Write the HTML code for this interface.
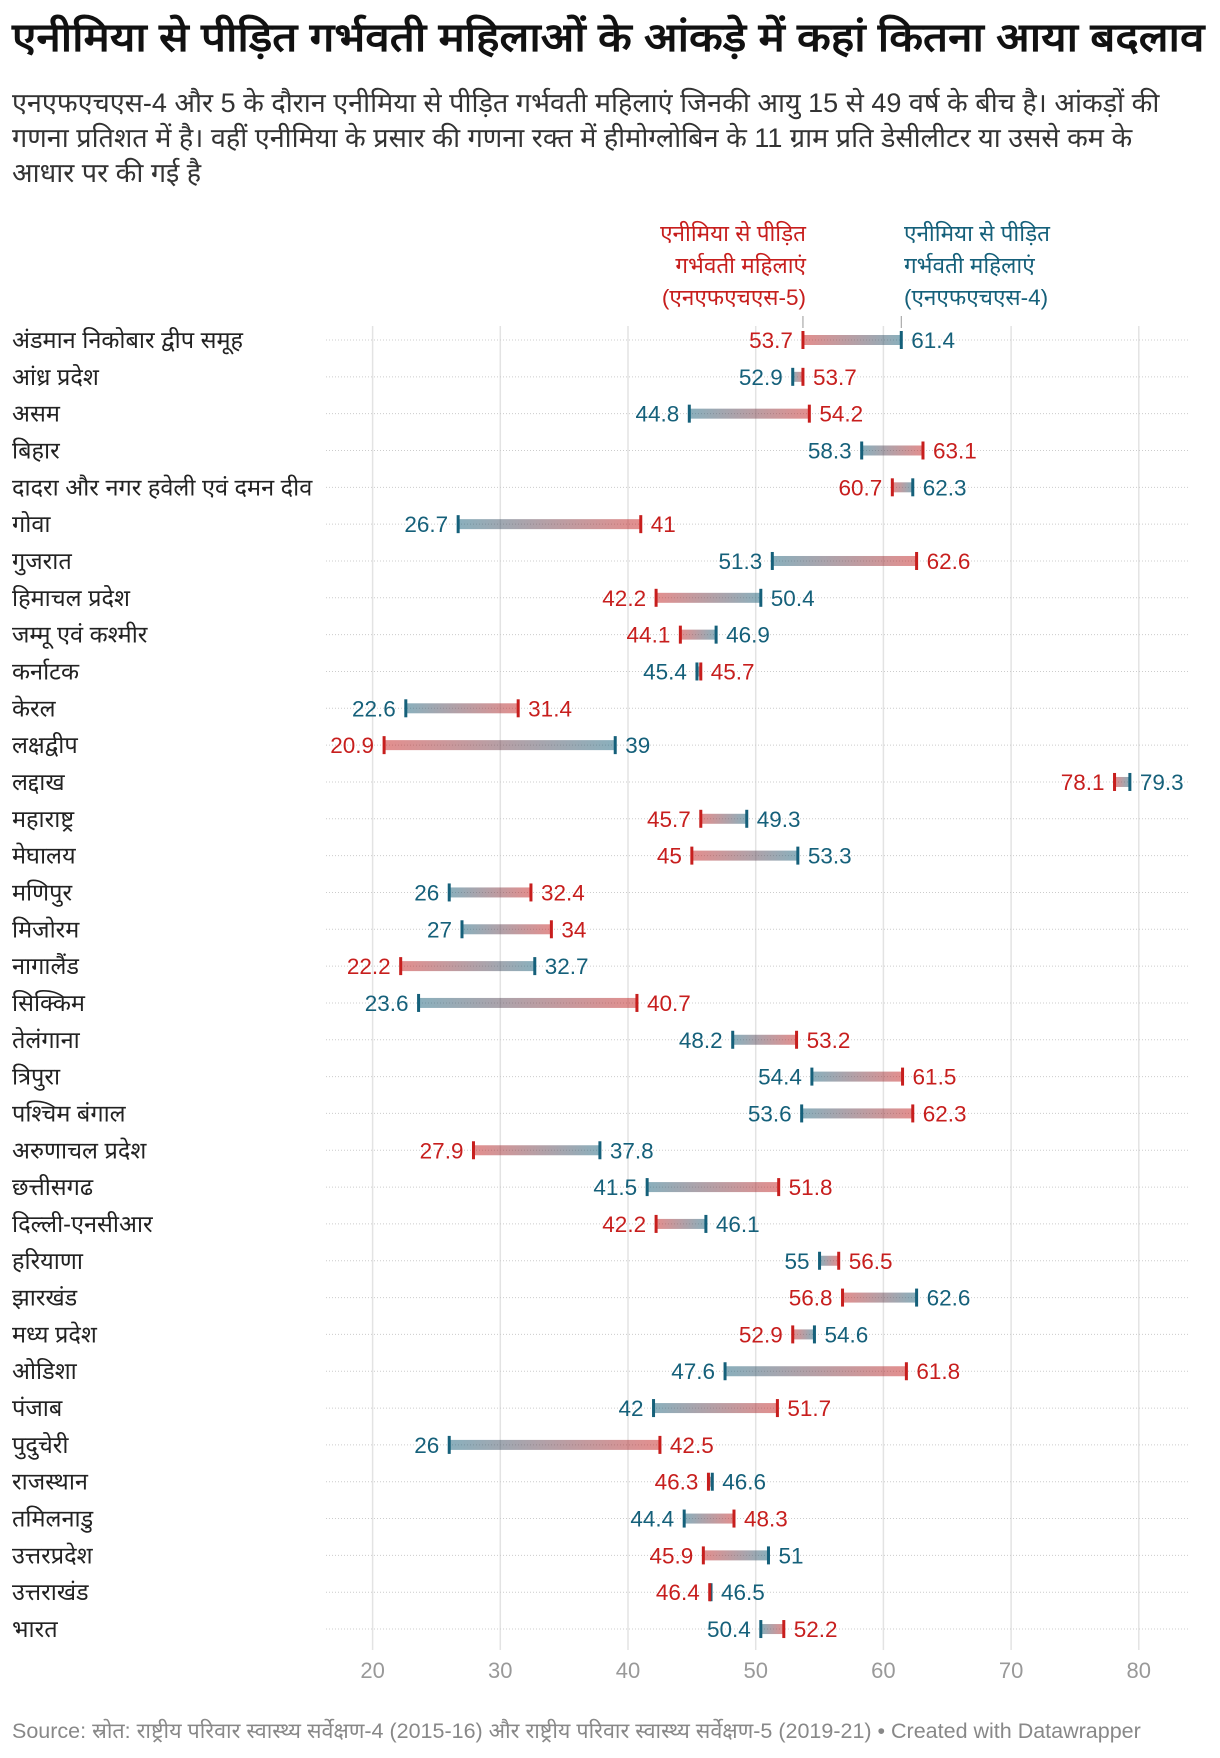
<!DOCTYPE html>
<html><head><meta charset="utf-8">
<style>
body{margin:0;background:#fff;width:1220px;height:1758px;overflow:hidden;font-family:"Liberation Sans","Noto Sans CJK SC",sans-serif;}
#title{position:absolute;left:12px;top:8px;font-size:40px;font-weight:bold;color:#111;white-space:nowrap;transform-origin:0 0;transform:scaleX(1.1);}
#sub{position:absolute;left:12px;top:86px;width:1175px;font-size:27px;line-height:35px;color:#333;}
#src{position:absolute;left:12px;top:1716px;font-size:21.5px;color:#888;white-space:nowrap;}
svg{position:absolute;left:0;top:0;}
</style></head><body>
<div id="title">एनीमिया से पीड़ित गर्भवती महिलाओं के आंकड़े में कहां कितना आया बदलाव</div>
<div id="sub">एनएफएचएस-4 और 5 के दौरान एनीमिया से पीड़ित गर्भवती महिलाएं जिनकी आयु 15 से 49 वर्ष के बीच है। आंकड़ों की गणना प्रतिशत में है। वहीं एनीमिया के प्रसार की गणना रक्त में हीमोग्लोबिन के 11 ग्राम प्रति डेसीलीटर या उससे कम के आधार पर की गई है</div>
<svg id="chart" width="1220" height="1758"></svg>
<div id="src">Source: स्रोत: राष्ट्रीय परिवार स्वास्थ्य सर्वेक्षण-4 (2015-16) और राष्ट्रीय परिवार स्वास्थ्य सर्वेक्षण-5 (2019-21) • Created with Datawrapper</div>
<script>
const categories=["अंडमान निकोबार द्वीप समूह","आंध्र प्रदेश","असम","बिहार","दादरा और नगर हवेली एवं दमन दीव","गोवा","गुजरात","हिमाचल प्रदेश","जम्मू एवं कश्मीर","कर्नाटक","केरल","लक्षद्वीप","लद्दाख","महाराष्ट्र","मेघालय","मणिपुर","मिजोरम","नागालैंड","सिक्किम","तेलंगाना","त्रिपुरा","पश्चिम बंगाल","अरुणाचल प्रदेश","छत्तीसगढ","दिल्ली-एनसीआर","हरियाणा","झारखंड","मध्य प्रदेश","ओडिशा","पंजाब","पुदुचेरी","राजस्थान","तमिलनाडु","उत्तरप्रदेश","उत्तराखंड","भारत"];
const nfhs4=[61.4,52.9,44.8,58.3,62.3,26.7,51.3,50.4,46.9,45.4,22.6,39,79.3,49.3,53.3,26,27,32.7,23.6,48.2,54.4,53.6,37.8,41.5,46.1,55,62.6,54.6,47.6,42,26,46.6,44.4,51,46.5,50.4];
const nfhs5=[53.7,53.7,54.2,63.1,60.7,41,62.6,42.2,44.1,45.7,31.4,20.9,78.1,45.7,45,32.4,34,22.2,40.7,53.2,61.5,62.3,27.9,51.8,42.2,56.5,56.8,52.9,61.8,51.7,42.5,46.3,48.3,45.9,46.4,52.2];
const xTicks=[20,30,40,50,60,70,80];
const RED="#c71e1d",BLUE="#15607a";
const svg=document.getElementById('chart');const NS="http://www.w3.org/2000/svg";
const x=v=>372.6+(v-20)*12.77;
const y=i=>340+i*36.83;
function mk(t,a,p){const e=document.createElementNS(NS,t);for(const k in a)e.setAttribute(k,a[k]);(p||svg).appendChild(e);return e;}
const defs=mk('defs',{});
xTicks.forEach(t=>{
 const g=mk('line',{x1:x(t),x2:x(t),y1:326,y2:1650,stroke:'#e3e3e3','stroke-width':1.5});
 
 
 const l=mk('text',{x:x(t),y:1678,'text-anchor':'middle','font-size':22,fill:'#999','font-family':'Liberation Sans, sans-serif'});
 l.textContent=t;
 
 
});
const lg=[["एनीमिया से पीड़ित","गर्भवती महिलाएं","(एनएफएचएस-5)"],["एनीमिया से पीड़ित","गर्भवती महिलाएं","(एनएफएचएस-4)"]];
[[806,'end',RED,nfhs5[0]],[904,'start',BLUE,nfhs4[0]]].forEach((c,k)=>{
 lg[k].forEach((s,j)=>{const t=mk('text',{x:c[0],y:241+j*32,'text-anchor':c[1],'font-size':22.5,fill:c[2]});t.textContent=s;
 
 });
 const tk=mk('line',{x1:x(c[3]),x2:x(c[3]),y1:316,y2:328,stroke:'#999','stroke-width':1});
 
 
});
categories.forEach((c,i)=>{
 const yy=y(i);
 const lab=mk('text',{x:12,y:yy+8,'font-size':23.5,fill:'#222'});lab.textContent=c;
 
 
 const dl=mk('line',{x1:326,x2:1190,y1:yy,y2:yy,stroke:'#ccc','stroke-width':1,'stroke-dasharray':'1,2'});
 
 
 const a=nfhs4[i],b=nfhs5[i];
 const gid='g'+i;
 const lgr=mk('linearGradient',{id:gid,gradientUnits:'userSpaceOnUse',x1:x(a),x2:x(b),y1:0,y2:0},defs);
 mk('stop',{offset:'0','stop-color':BLUE,'stop-opacity':0.5},lgr);mk('stop',{offset:'1','stop-color':RED,'stop-opacity':0.5},lgr);
 const bar=mk('rect',{x:Math.min(x(a),x(b)),y:yy-5,width:Math.abs(x(b)-x(a)),height:10,fill:'url(#'+gid+')'});
 
 
 [[a,BLUE,'nfhs4-marker'],[b,RED,'nfhs5-marker']].forEach(m=>{
  const r=mk('rect',{x:x(m[0])-1.5,y:yy-9,width:3,height:18,fill:m[1]});
  
  
 });
 const lo=Math.min(a,b),hi=Math.max(a,b);
 const loC=a<b?BLUE:RED, hiC=loC===BLUE?RED:BLUE;
 const t1=mk('text',{x:x(lo)-10,y:yy+8,'text-anchor':'end','font-size':22.5,fill:loC});t1.textContent=lo;
 
 
 const t2=mk('text',{x:x(hi)+10,y:yy+8,'font-size':22.5,fill:hiC});t2.textContent=hi;
 
 
});
</script>
</body></html>
